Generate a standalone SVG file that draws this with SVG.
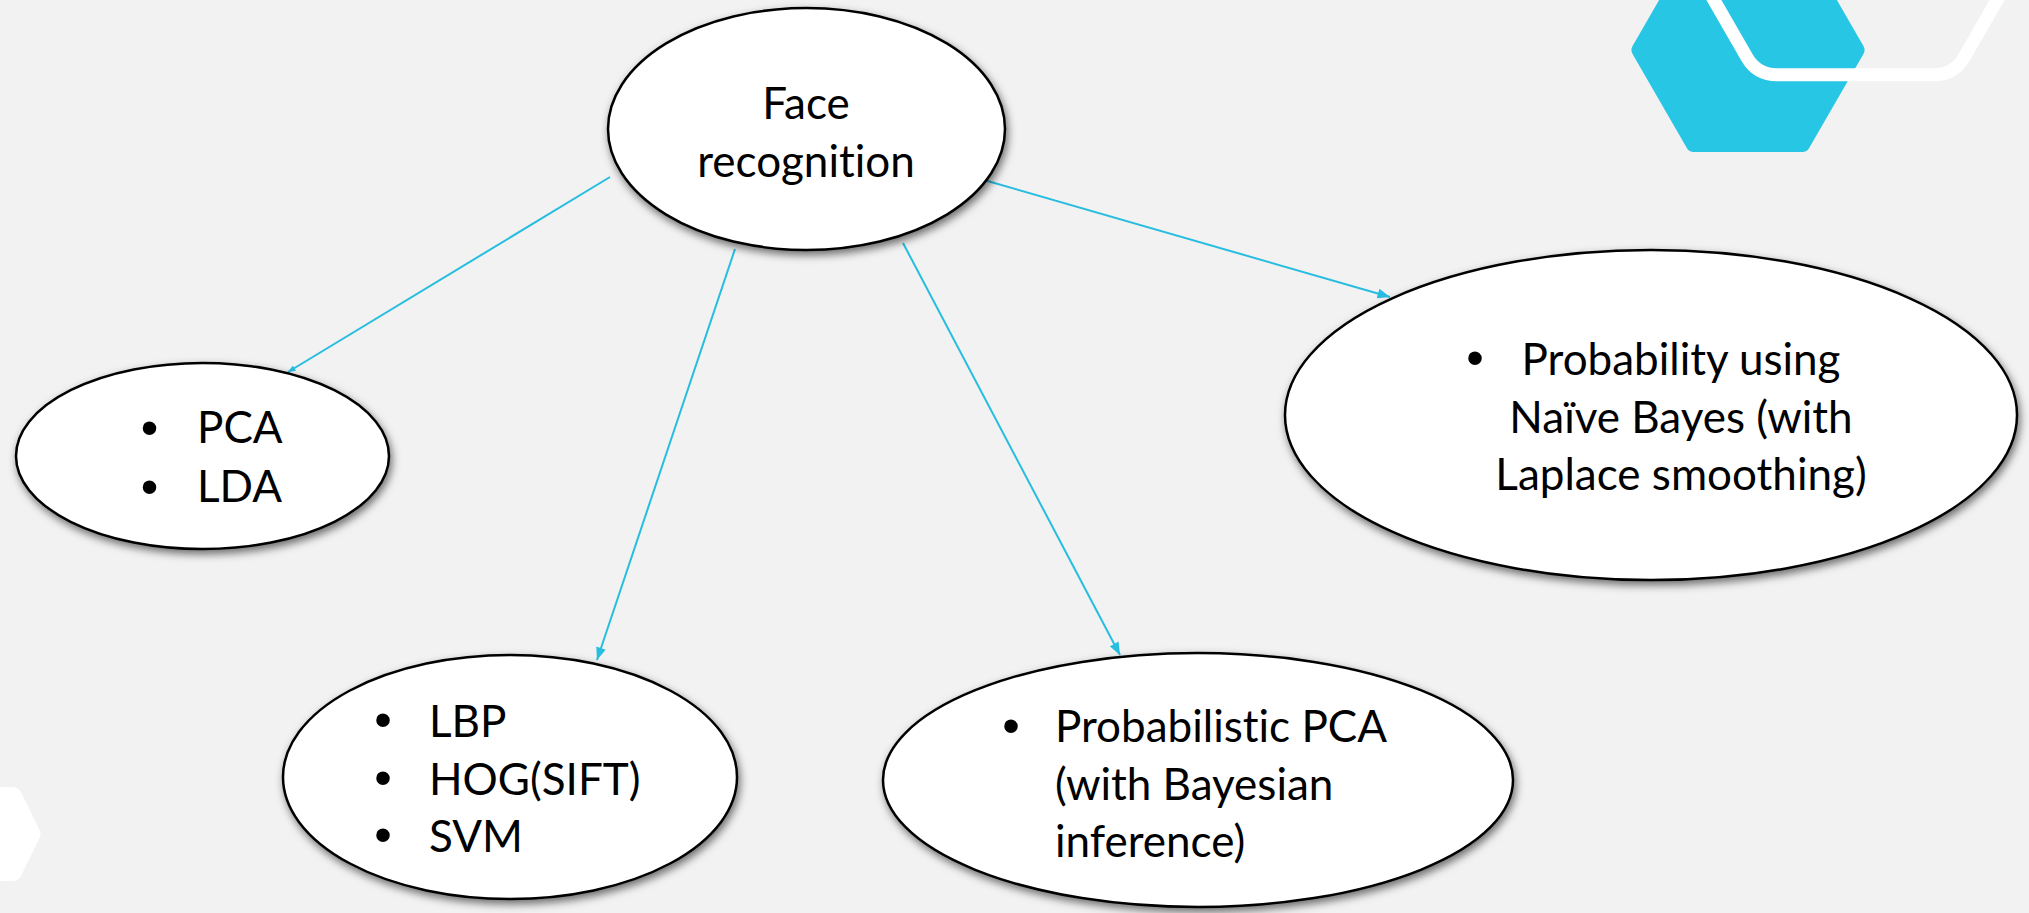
<svg xmlns="http://www.w3.org/2000/svg" width="2029" height="913" viewBox="0 0 2029 913">
<style>
.node ellipse{fill:#fff;stroke:#000;stroke-width:2.5;filter:url(#sh)}
.t{font-family:Lato,"Liberation Sans",sans-serif;font-size:44px;fill:#000;font-variant-ligatures:none}
.b{font-family:"Liberation Sans",Arial,sans-serif;font-size:50px;fill:#000}
.c{stroke:#27bde0;stroke-width:2;fill:none;marker-end:url(#ah)}
</style>
<defs>
<filter id="sh" x="-10%" y="-10%" width="120%" height="130%">
<feDropShadow dx="2" dy="4" stdDeviation="4" flood-color="#000" flood-opacity="0.55"/>
</filter>
<marker id="ah" viewBox="0 0 10 8" refX="10" refY="4" markerWidth="13" markerHeight="10" markerUnits="userSpaceOnUse" orient="auto">
<path d="M0,0 L10,4 L0,8 z" fill="#27bde0"/>
</marker>
<marker id="ahs" viewBox="0 0 10 8" refX="10" refY="4" markerWidth="8" markerHeight="6" markerUnits="userSpaceOnUse" orient="auto">
<path d="M0,0 L10,4 L0,8 z" fill="#27bde0"/>
</marker>
</defs>
<rect width="2029" height="913" fill="#f2f2f2"/>
<g id="decor">
<path d="M1639.5,50 L1693.75,144 L1802.25,144 L1856.5,50 L1802.25,-44 L1693.75,-44 Z" fill="#27c6e4" stroke="#27c6e4" stroke-width="16" stroke-linejoin="round"/>
<path d="M1700,-24 L1747,57.4 Q1757,74.7 1777,74.7 L1934,74.7 Q1954,74.7 1964,57.4 L2011,-24" fill="none" stroke="#fff" stroke-width="13"/>
<path d="M-60,787 L12,787 Q18,787 21,792 L39,829 Q42,834 39,839 L21,876 Q18,881 12,881 L-60,881 Z" fill="#fff"/>
</g>
<g id="connectors">
<line class="c" x1="610" y1="177" x2="288" y2="372" style="marker-end:url(#ahs)"/>
<line class="c" x1="735" y1="249" x2="597" y2="660"/>
<line class="c" x1="903" y1="243" x2="1120" y2="655"/>
<line class="c" x1="984" y1="180" x2="1390" y2="297"/>
</g>
<g id="face-recognition" class="node">
<ellipse cx="806.5" cy="129" rx="198.5" ry="121"/>
<text class="t" text-anchor="middle"><tspan x="806" y="119">Face</tspan><tspan x="806" y="177">recognition</tspan></text>
</g>
<g id="pca-lda" class="node">
<ellipse cx="202.5" cy="456" rx="186.5" ry="93"/>
<text class="b" text-anchor="middle"><tspan x="149.5" y="445">•</tspan><tspan x="149.5" y="504">•</tspan></text>
<text class="t"><tspan x="197" y="443">PCA</tspan><tspan x="197" y="502">LDA</tspan></text>
</g>
<g id="lbp-hog-svm" class="node">
<ellipse cx="510" cy="777" rx="227" ry="122"/>
<text class="b" text-anchor="middle"><tspan x="383" y="737">•</tspan><tspan x="383" y="795">•</tspan><tspan x="383" y="852">•</tspan></text>
<text class="t"><tspan x="429" y="737">LBP</tspan><tspan x="429" y="795">HOG(SIFT)</tspan><tspan x="429" y="852">SVM</tspan></text>
</g>
<g id="probabilistic-pca" class="node">
<ellipse cx="1198" cy="780" rx="315" ry="127"/>
<text class="b" text-anchor="middle"><tspan x="1011" y="743">•</tspan></text>
<text class="t"><tspan x="1055" y="742">Probabilistic PCA</tspan><tspan x="1055" y="800">(with Bayesian</tspan><tspan x="1055" y="857">inference)</tspan></text>
</g>
<g id="naive-bayes" class="node">
<ellipse cx="1651" cy="415" rx="366" ry="165"/>
<text class="b" text-anchor="middle"><tspan x="1475" y="375">•</tspan></text>
<text class="t" text-anchor="middle"><tspan x="1681" y="375">Probability using</tspan><tspan x="1681" y="433">Naïve Bayes (with</tspan><tspan x="1681" y="490">Laplace smoothing)</tspan></text>
</g>
</svg>
